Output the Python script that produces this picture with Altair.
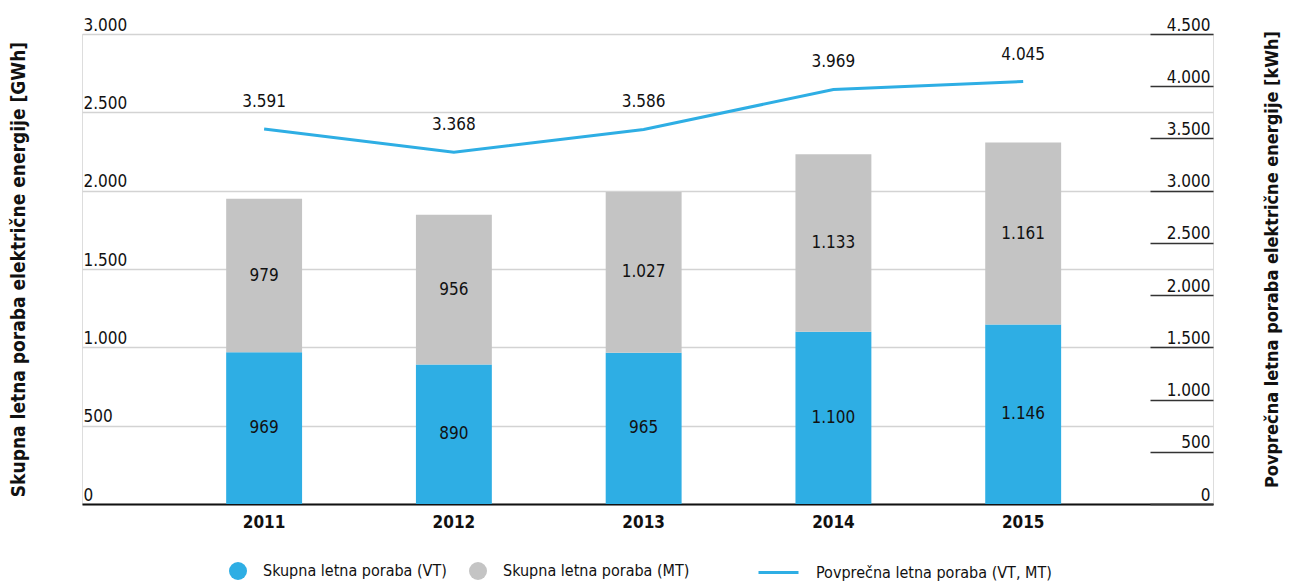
import altair as alt
import pandas as pd

years = ["2011", "2012", "2013", "2014", "2015"]
vt = [969, 890, 965, 1100, 1146]
mt = [979, 956, 1027, 1133, 1161]
avg = [3591, 3368, 3586, 3969, 4045]
series_vt = "Skupna letna poraba (VT)"
series_mt = "Skupna letna poraba (MT)"
series_avg = "Povprečna letna poraba (VT, MT)"
left_ticks = [0, 500, 1000, 1500, 2000, 2500, 3000]
right_ticks = [0, 500, 1000, 1500, 2000, 2500, 3000, 3500, 4000, 4500]
left_title = "Skupna letna poraba električne energije [GWh]"
right_title = "Povprečna letna poraba električne energije [kWh]"

FONT = "Liberation Sans Narrow, DejaVu Sans Condensed, sans-serif"
BLUE = "#2eaee4"
GRAY = "#c4c4c4"

bars_df = pd.DataFrame({
    "year": years * 2,
    "series": [series_vt] * 5 + [series_mt] * 5,
    "value": vt + mt,
    "ord": [0] * 5 + [1] * 5,
})
line_df = pd.DataFrame({"year": years, "avg": avg, "series": [series_avg] * 5})

x = alt.X("year:N", title=None,
          scale=alt.Scale(paddingInner=0.6, paddingOuter=0.78, align=0.487),
          axis=alt.Axis(labelFontWeight="bold", labelFontSize=17, labelPadding=10,
                        ticks=False, domainColor="#111111", domainWidth=2,
                        labelAngle=0, labelColor="#111111", labelFont=FONT))

left_axis = alt.Axis(title=left_title, values=left_ticks, format=",.0f", grid=True,
                     gridColor="#d3d3d3", gridWidth=1.5, ticks=False, domain=False,
                     labelAlign="left", labelBaseline="bottom", labelPadding=-1,
                     labelFontSize=17, labelFont=FONT, labelColor="#111111",
                     titleFont=FONT, titleFontSize=19, titleFontWeight="bold",
                     titleColor="#111111", titleX=-64, titleY=235, titleAngle=270,
                     titleAlign="center", titleBaseline="middle")

right_axis = alt.Axis(title=right_title, orient="right", offset=-63,
                      values=right_ticks, format=",.0f", grid=False, domain=False,
                      ticks=True, tickSize=63, tickColor="#333333", tickWidth=1.5,
                      labelAlign="right", labelBaseline="bottom", labelPadding=-3,
                      labelFontSize=17, labelFont=FONT, labelColor="#111111",
                      titleFont=FONT, titleFontSize=18, titleFontWeight="bold",
                      titleColor="#111111", titleX=122, titleY=225, titleAngle=270,
                      titleAlign="center", titleBaseline="middle")

base_bars = alt.Chart(bars_df)

bars = base_bars.mark_bar().encode(
    x=x,
    y=alt.Y("value:Q", stack="zero", scale=alt.Scale(domain=[0, 3000], nice=False),
            axis=left_axis),
    fill=alt.Fill("series:N",
                  scale=alt.Scale(domain=[series_vt, series_mt], range=[BLUE, GRAY]),
                  legend=alt.Legend(orient="none", legendX=147, legendY=528,
                                    direction="horizontal", title=None,
                                    symbolType="circle", symbolSize=324,
                                    symbolStrokeWidth=0, labelFontSize=16,
                                    labelFont=FONT, labelColor="#111111",
                                    columnPadding=22, labelOffset=16, labelLimit=400)),
    order=alt.Order("ord:Q", sort="ascending"),
)

bar_text = base_bars.transform_stack(
    stack="value", groupby=["year"], as_=["v0", "v1"],
    sort=[alt.SortField("ord", order="ascending")]
).transform_calculate(mid="(datum.v0 + datum.v1) / 2").mark_text(
    fontSize=17, font=FONT, color="#111111", baseline="middle"
).encode(
    x=x,
    y=alt.Y("mid:Q"),
    text=alt.Text("value:Q", format=",.0f"),
)

base_line = alt.Chart(line_df)
line = base_line.mark_line(strokeWidth=3).encode(
    x=x,
    y=alt.Y("avg:Q", scale=alt.Scale(domain=[0, 4500], nice=False), axis=right_axis),
    stroke=alt.Stroke("series:N",
                      scale=alt.Scale(domain=[series_avg], range=[BLUE]),
                      legend=alt.Legend(orient="none", legendX=675, legendY=517,
                                        title=None, symbolType="stroke",
                                        symbolSize=1600, symbolStrokeWidth=3,
                                        labelFontSize=16, labelFont=FONT,
                                        labelColor="#111111", labelOffset=16,
                                        labelLimit=400)),
)
line_text = base_line.mark_text(fontSize=17, font=FONT, color="#111111",
                                baseline="middle", dy=-27).encode(
    x=x,
    y=alt.Y("avg:Q"),
    text=alt.Text("avg:Q", format=",.0f"),
)

chart = alt.layer(
    alt.layer(bars, bar_text),
    alt.layer(line, line_text),
).resolve_scale(y="independent").properties(
    width=1131, height=470,
    padding={"left": 74, "top": 26, "right": 70, "bottom": 78},
    autosize=alt.AutoSizeParams(type="none"),
).configure_view(stroke=None).configure(font=FONT)

chart.save("out.html", embed_options={
    "renderer": "svg", "actions": False,
    "formatLocale": {"decimal": ",", "thousands": ".", "grouping": [3],
                     "currency": ["", " €"]},
})
